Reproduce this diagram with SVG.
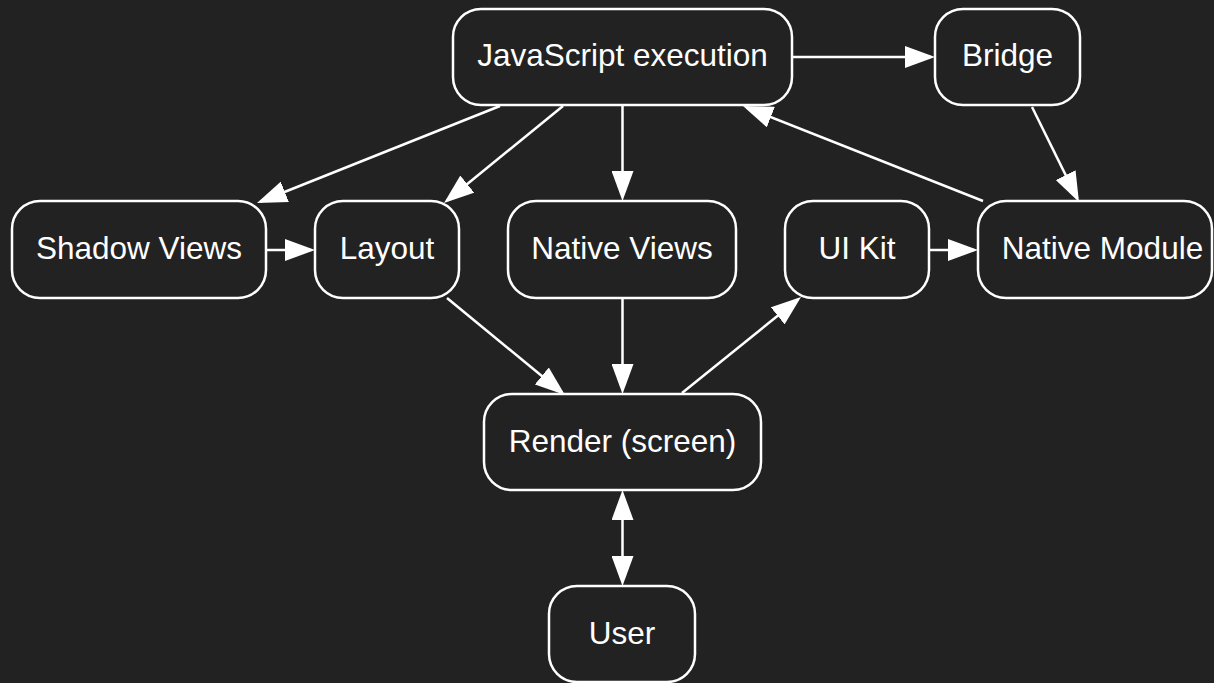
<svg xmlns="http://www.w3.org/2000/svg" width="1214" height="683" viewBox="0 0 1214 683">
<defs>
<style>
.node rect{fill:#222222;stroke:#ffffff;stroke-width:2.5}
.node text{fill:#ffffff;font-family:"Liberation Sans",Arial,Helvetica,sans-serif;font-size:31.5px;text-anchor:middle}
.edges line{stroke:#ffffff;stroke-width:2.5;fill:none}
.edges .a{marker-end:url(#ah)}
.edges .b{marker-end:url(#ah);marker-start:url(#ah)}
</style>
<marker id="ah" markerUnits="userSpaceOnUse" markerWidth="30" markerHeight="22" refX="26" refY="11" orient="auto-start-reverse" viewBox="0 0 30 22">
<path d="M0,0 L30,11 L0,22 Z" fill="#ffffff"/>
</marker>
</defs>
<rect x="0" y="0" width="1214" height="683" fill="#222222"/>
<g id="edges" class="edges">
<line class="a" x1="792" y1="57" x2="931" y2="57"/>
<line class="a" x1="500" y1="106" x2="260.7" y2="201.5"/>
<line class="a" x1="563" y1="106" x2="447.1" y2="200.5"/>
<line class="a" x1="622.5" y1="105" x2="622.5" y2="197"/>
<line class="a" x1="983" y1="201" x2="746.7" y2="107.5"/>
<line class="a" x1="1032" y1="107" x2="1077.2" y2="198.4"/>
<line class="a" x1="266" y1="250" x2="311" y2="250"/>
<line class="a" x1="929" y1="250" x2="974" y2="250"/>
<line class="a" x1="447" y1="298" x2="561.9" y2="392.5"/>
<line class="a" x1="622.5" y1="298" x2="622.5" y2="390"/>
<line class="a" x1="682" y1="393" x2="797.9" y2="299.5"/>
<line class="b" x1="622.5" y1="494" x2="622.5" y2="582"/>
</g>
<g id="js" class="node"><rect x="453" y="9" width="339" height="96" rx="28"/><text x="622.5" y="65.5">JavaScript execution</text></g>
<g id="bridge" class="node"><rect x="935" y="9" width="145" height="96" rx="28"/><text x="1007.5" y="65.5">Bridge</text></g>
<g id="shadow" class="node"><rect x="12" y="201" width="254" height="97" rx="28"/><text x="139" y="258.5">Shadow Views</text></g>
<g id="layout" class="node"><rect x="315" y="201" width="144" height="97" rx="28"/><text x="387" y="258.5">Layout</text></g>
<g id="nativeviews" class="node"><rect x="508" y="201" width="228" height="97" rx="28"/><text x="622" y="258.5">Native Views</text></g>
<g id="uikit" class="node"><rect x="785" y="201" width="144" height="97" rx="28"/><text x="857" y="258.5">UI Kit</text></g>
<g id="nativemodule" class="node"><rect x="978" y="201" width="234" height="97" rx="28"/><text x="1102.5" y="258.5">Native Module</text></g>
<g id="render" class="node"><rect x="484" y="394" width="277" height="96" rx="28"/><text x="622.5" y="451.5">Render (screen)</text></g>
<g id="user" class="node"><rect x="549" y="586" width="146" height="96" rx="28"/><text x="622" y="643.5">User</text></g>
</svg>
